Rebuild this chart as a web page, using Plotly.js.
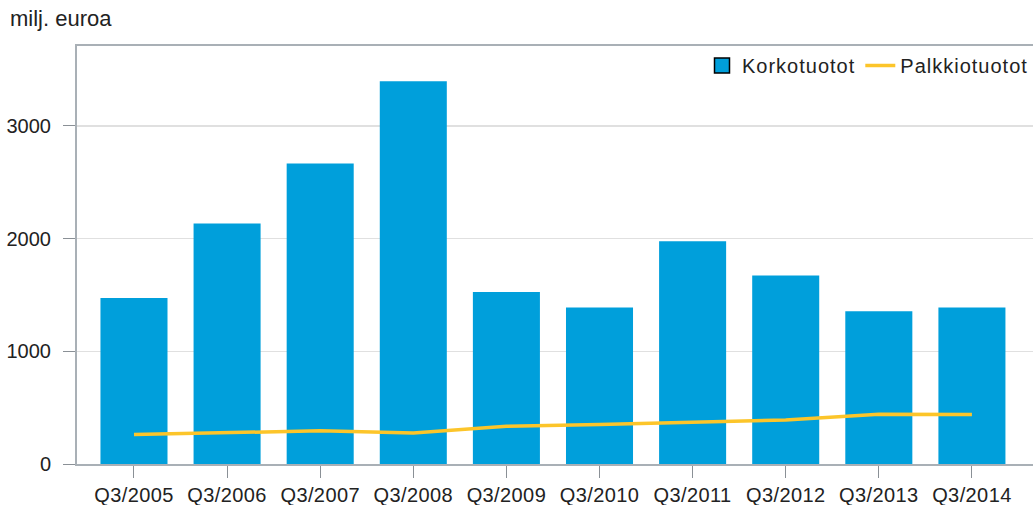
<!DOCTYPE html>
<html>
<head>
<meta charset="utf-8">
<script src="https://cdn.plot.ly/plotly-3.0.1.min.js"></script>
<style>
html, body { margin: 0; padding: 0; background: #fff; }
#chart { width: 1033px; height: 505px; }
.legendtext { letter-spacing: 1px; }
.xtick text { letter-spacing: 0.4px; }
</style>
</head>
<body>
<div id="chart"></div>
<script>
var categories = ["Q3/2005", "Q3/2006", "Q3/2007", "Q3/2008", "Q3/2009", "Q3/2010", "Q3/2011", "Q3/2012", "Q3/2013", "Q3/2014"];
var korkotuotot = [1474, 2134, 2666, 3397, 1527, 1389, 1977, 1673, 1356, 1389];
var palkkiotuotot = [262, 280, 294, 276, 335, 350, 374, 391, 442, 439];
var yTicks = [0, 1000, 2000, 3000];

var font = "'Liberation Sans', Arial, sans-serif";
var barColor = "#009fdb";
var lineColor = "#fcc52a";

var traces = [
  {
    type: "bar",
    x: categories,
    y: korkotuotot,
    name: "Korkotuotot",
    showlegend: false,
    marker: { color: barColor, line: { width: 0 } },
    hoverinfo: "x+y"
  },
  {
    type: "scatter",
    mode: "markers",
    x: [null],
    y: [null],
    name: "Korkotuotot",
    marker: { symbol: "square", size: 15, color: barColor, line: { color: "#000", width: 1.5 } }
  },
  {
    type: "scatter",
    mode: "lines",
    x: categories,
    y: palkkiotuotot,
    name: "Palkkiotuotot",
    line: { color: lineColor, width: 3.5, shape: "linear" }
  }
];

var layout = {
  width: 1033,
  height: 505,
  margin: { l: 77, r: 0, t: 46, b: 41, pad: 0 },
  paper_bgcolor: "#fff",
  plot_bgcolor: "#fff",
  font: { family: font, size: 19, color: "#222" },
  bargap: 0.28,
  title: {
    text: "milj. euroa",
    font: { family: font, size: 22, color: "#222" },
    x: 10 / 1033,
    xanchor: "left",
    xref: "container",
    y: 1 - 11 / 505,
    yanchor: "top",
    yref: "container",
    pad: { t: 0, l: 0 }
  },
  xaxis: {
    type: "category",
    range: [-0.612, 9.656],
    showline: true,
    linecolor: "#a9b0b6",
    linewidth: 2,
    mirror: true,
    ticks: "outside",
    ticklen: 12,
    tickwidth: 1,
    tickcolor: "#8a9096",
    showgrid: false,
    tickfont: { family: font, size: 20, color: "#222" },
    fixedrange: true
  },
  yaxis: {
    range: [0, 3709],
    tickvals: yTicks,
    ticktext: yTicks.map(String),
    showline: true,
    linecolor: "#a9b0b6",
    linewidth: 2,
    ticks: "outside",
    ticklen: 12,
    tickwidth: 1,
    tickcolor: "#8a9096",
    ticklabelstandoff: 8,
    showgrid: true,
    gridcolor: "#e0e0e0",
    gridwidth: 1.5,
    zeroline: false,
    tickfont: { family: font, size: 20, color: "#222" },
    fixedrange: true
  },
  legend: {
    orientation: "h",
    x: 1,
    xanchor: "right",
    y: 1,
    yanchor: "top",
    yref: "paper",
    bgcolor: "rgba(0,0,0,0)",
    font: { family: font, size: 20, color: "#222" },
    traceorder: "normal",
    itemwidth: 30
  },
  showlegend: true
};

Plotly.newPlot("chart", traces, layout, { displayModeBar: false, staticPlot: true });
</script>
</body>
</html>
